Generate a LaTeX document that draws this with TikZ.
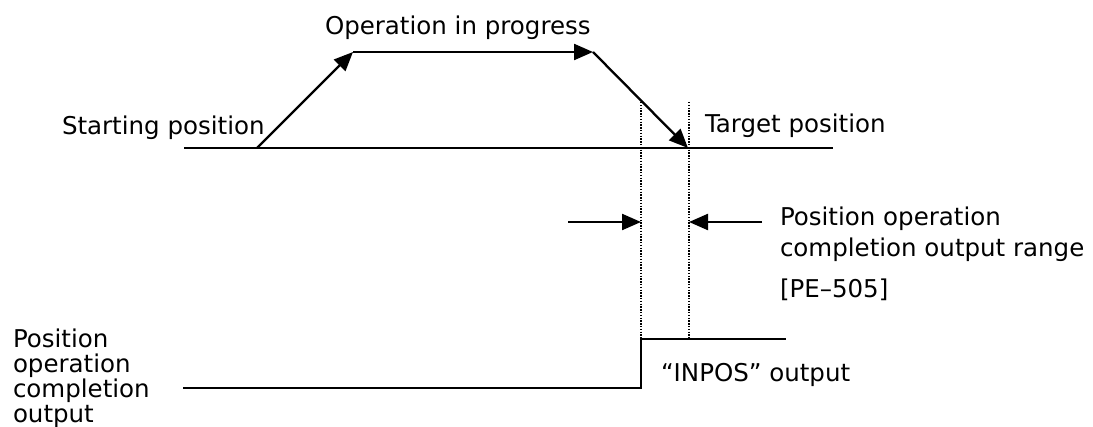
\documentclass[tikz,border=0pt]{standalone}
\usepackage{fontspec}
\setmainfont{DejaVu Sans}
\usetikzlibrary{arrows.meta}
\begin{document}
\begin{tikzpicture}[x=1pt,y=-1pt,
  every node/.style={inner sep=0pt,outer sep=0pt,font=\fontsize{24.5}{25}\selectfont},
  lbl/.style={anchor=base west,align=left},
  trace/.style={line width=2.3pt},
  arr/.style={trace,-{Triangle[length=19pt,width=16pt]}},
  guide/.style={line width=1.3pt,dash pattern=on 1.4pt off 1.4pt}]
\useasboundingbox (0,0) rectangle (1093,427);
\fill[white] (0,0) rectangle (1093,427);

% position profile
\coordinate (baseL) at (184,148);
\coordinate (baseR) at (833,148);
\coordinate (start) at (257,148);
\coordinate (peakL) at (353,52);
\coordinate (peakR) at (593,52);
\coordinate (target) at (688,148);

% in-position window guides
\coordinate (winLtop) at (641,102);
\coordinate (winRtop) at (689,102);

% completion output signal
\coordinate (sigL) at (183,388);
\coordinate (sigLow) at (641,388);
\coordinate (sigHigh) at (641,339);
\coordinate (sigR) at (786,339);
\coordinate (winRbot) at (689,339);

% window width markers
\coordinate (mkLtail) at (568,222);
\coordinate (mkLhead) at (641,222);
\coordinate (mkRtail) at (762,222);
\coordinate (mkRhead) at (689,222);

\draw[guide] (winLtop) -- (sigHigh);
\draw[guide] (winRtop) -- (winRbot);

\draw[trace] (baseL) -- (baseR);
\draw[arr] (start) -- (peakL);
\draw[arr] (peakL) -- (peakR);
\draw[arr] (peakR) -- (target);

\draw[trace,line join=miter] (sigL) -- (sigLow) -- (sigHigh) -- (sigR);

\draw[arr] (mkLtail) -- (mkLhead);
\draw[arr] (mkRtail) -- (mkRhead);

% labels
\node[lbl] (tOper) at (325,35) {Operation in progress};
\node[lbl] (tStart) at (62,135) {Starting position};
\node[lbl] (tTarget) at (705,133) {Target position};
\node[lbl] (tRange1) at (780,226) {Position operation};
\node[lbl] (tRange2) at (780,257) {completion output range};
\node[lbl] (tParam) at (780,298) {[PE–505]};
\node[lbl] (tInpos) at (661,382) {“INPOS” output};
\node[lbl] (tSignal) at (13,423) {Position\\operation\\completion\\output};
\end{tikzpicture}
\end{document}
